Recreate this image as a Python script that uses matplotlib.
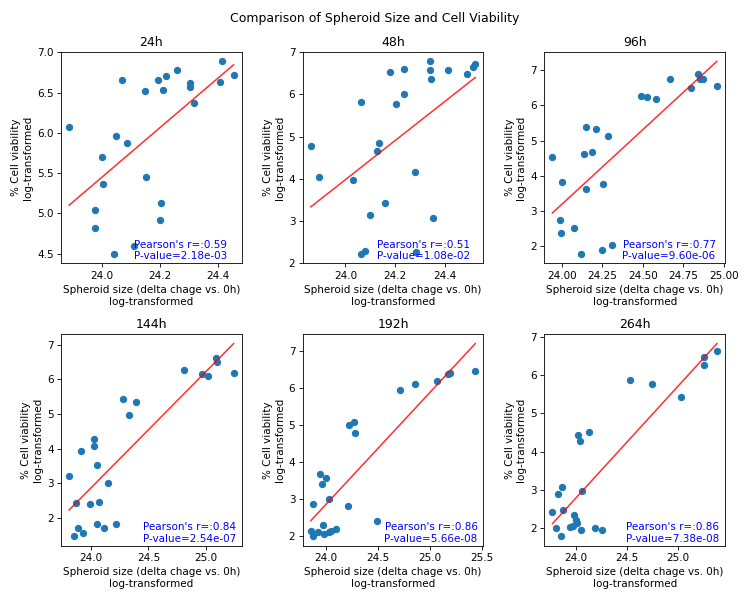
import numpy as np
import matplotlib
matplotlib.use('Agg')
from matplotlib import pyplot as plt

titles = ['24h', '48h', '96h', '144h', '192h', '264h']
stats_text = [
    "Pearson's r=:0.59\nP-value=2.18e-03",
    "Pearson's r=:0.51\nP-value=1.08e-02",
    "Pearson's r=:0.77\nP-value=9.60e-06",
    "Pearson's r=:0.84\nP-value=2.54e-07",
    "Pearson's r=:0.86\nP-value=5.66e-08",
    "Pearson's r=:0.86\nP-value=7.38e-08",
]

size_24 = [23.888, 24.071, 23.976, 23.976, 24.000, 24.006, 24.048, 24.088, 24.042, 24.110, 24.150, 24.153,
           24.192, 24.211, 24.221, 24.205, 24.201, 24.259, 24.302, 24.303, 24.317, 24.407, 24.413, 24.453]
viab_24 = [6.067, 6.661, 5.038, 4.816, 5.703, 5.360, 5.962, 5.870, 4.498, 4.598, 6.519, 5.450,
           6.653, 6.536, 6.707, 5.126, 4.916, 6.774, 6.619, 6.565, 6.372, 6.632, 6.887, 6.720]

size_48 = [23.860, 23.894, 24.030, 24.061, 24.063, 24.077, 24.098, 24.127, 24.136, 24.160, 24.178, 24.204,
           24.236, 24.236, 24.282, 24.284, 24.340, 24.340, 24.346, 24.352, 24.412, 24.492, 24.513, 24.524]
viab_48 = [4.784, 4.048, 3.960, 5.808, 2.216, 2.288, 3.136, 4.664, 4.856, 3.416, 6.536, 5.776,
           6.600, 6.008, 4.152, 2.256, 6.784, 6.584, 6.368, 3.056, 6.568, 6.496, 6.640, 6.712]

size_96 = [23.942, 23.986, 23.994, 23.998, 24.076, 24.121, 24.136, 24.146, 24.146, 24.187, 24.210, 24.247,
           24.257, 24.284, 24.309, 24.486, 24.525, 24.580, 24.669, 24.796, 24.842, 24.854, 24.872, 24.957]
viab_96 = [4.529, 2.731, 2.365, 3.817, 2.519, 1.769, 4.615, 5.375, 3.606, 4.683, 5.327, 1.875,
           3.769, 5.115, 2.029, 6.260, 6.240, 6.192, 6.760, 6.500, 6.894, 6.760, 6.760, 6.567]

size_144 = [23.808, 23.852, 23.866, 23.887, 23.913, 23.927, 23.991, 24.029, 24.029, 24.049, 24.055, 24.070,
            24.113, 24.148, 24.218, 24.279, 24.331, 24.395, 24.814, 24.971, 25.017, 25.087, 25.099, 25.244]
viab_144 = [3.199, 1.478, 2.445, 1.700, 3.934, 1.555, 2.397, 4.273, 4.089, 3.528, 1.836, 2.464,
            1.720, 3.006, 1.816, 5.424, 4.959, 5.356, 6.255, 6.149, 6.081, 6.603, 6.497, 6.188]

size_192 = [23.855, 23.874, 23.874, 23.923, 23.939, 23.961, 23.974, 23.981, 24.000, 24.026, 24.032, 24.051,
            24.093, 24.209, 24.222, 24.267, 24.280, 24.492, 24.715, 24.859, 25.069, 25.181, 25.191, 25.439]
viab_192 = [2.146, 2.000, 2.865, 2.100, 3.667, 3.412, 2.300, 2.046, 3.567, 2.118, 3.011, 2.146,
            2.191, 2.802, 4.996, 5.078, 4.796, 2.419, 5.962, 6.126, 6.189, 6.390, 6.417, 6.454]

size_264 = [23.773, 23.805, 23.828, 23.857, 23.864, 23.873, 23.948, 23.971, 23.987, 24.003, 24.016, 24.023,
            24.039, 24.055, 24.062, 24.127, 24.192, 24.253, 24.529, 24.747, 25.026, 25.250, 25.256, 25.377]
viab_264 = [2.430, 2.018, 2.886, 1.798, 3.088, 2.474, 2.044, 2.053, 2.342, 2.228, 2.132, 4.439,
            4.289, 1.956, 2.965, 4.509, 2.000, 1.965, 5.868, 5.772, 5.430, 6.272, 6.482, 6.632]

sizes = [size_24, size_48, size_96, size_144, size_192, size_264]
viabs = [viab_24, viab_48, viab_96, viab_144, viab_192, viab_264]
text_x = [0.66, 0.67, 0.69, 0.71, 0.71, 0.71]

fig, axes = plt.subplots(2, 3, figsize=(10, 8), dpi=75)
fig.suptitle('Comparison of Spheroid Size and Cell Viability')

for i, ax in enumerate(axes.flat):
    x = np.array(sizes[i])
    y = np.array(viabs[i])
    ax.scatter(x, y)
    slope, intercept = np.polyfit(x, y, 1)
    xs = np.array([x.min(), x.max()])
    ax.plot(xs, slope * xs + intercept, color='red', alpha=0.8)
    ax.set_title(titles[i])
    ax.set_xlabel('Spheroid size (delta chage vs. 0h)\nlog-transformed')
    ax.set_ylabel('% Cell viability\nlog-transformed')
    ax.text(text_x[i], 0.01, stats_text[i], transform=ax.transAxes,
            ha='center', va='bottom', color='blue')

plt.tight_layout()
plt.savefig('out.png')
